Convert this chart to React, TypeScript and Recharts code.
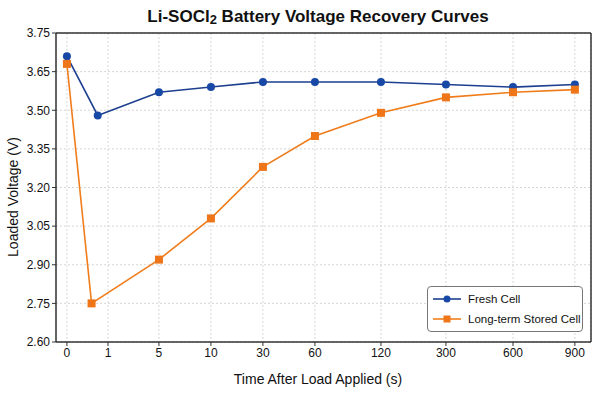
import React from "react";
import {
  LineChart,
  Line,
  XAxis,
  YAxis,
  CartesianGrid,
  Legend,
  ReferenceLine,
} from "recharts";

// Time ticks (seconds) and where each sits on the compressed time axis
const timeTicks = [0, 1, 5, 10, 30, 60, 120, 300, 600, 900];
const timeSlots = [0, 0.79, 1.77, 2.77, 3.77, 4.77, 6.04, 7.29, 8.58, 9.77];

// Voltage ticks and their printed labels
const voltTicks = [2.6, 2.75, 2.9, 3.05, 3.2, 3.35, 3.5, 3.65, 3.8];
const voltLabels = ["2.60", "2.75", "2.90", "3.05", "3.20", "3.35", "3.50", "3.65", "3.75"];

// Series
const freshTimes = [0, 0.75, 5, 10, 30, 60, 120, 300, 600, 900];
const freshVolts = [3.71, 3.48, 3.57, 3.59, 3.61, 3.61, 3.61, 3.6, 3.59, 3.6];
const storedTimes = [0, 0.6, 5, 10, 30, 60, 120, 300, 600, 900];
const storedVolts = [3.68, 2.75, 2.92, 3.08, 3.28, 3.4, 3.49, 3.55, 3.57, 3.58];

const seriesNames = ["Fresh Cell", "Long-term Stored Cell"];
const seriesColors = ["#1d3f8f", "#f07d1c"];
const markerColors = ["#1848a6", "#ee7518"];

const FONT = "'Liberation Sans', Arial, Helvetica, sans-serif";

// Piecewise-linear placement of a time value on the slot axis
function slotOf(t: number): number {
  for (let i = 1; i < timeTicks.length; i++) {
    if (t <= timeTicks[i]) {
      const a = timeTicks[i - 1];
      const b = timeTicks[i];
      const f = (t - a) / (b - a);
      return timeSlots[i - 1] + f * (timeSlots[i] - timeSlots[i - 1]);
    }
  }
  return timeSlots[timeSlots.length - 1];
}

const freshData = freshTimes.map((t, i) => ({ x: slotOf(t), v: freshVolts[i] }));
const storedData = storedTimes.map((t, i) => ({ x: slotOf(t), v: storedVolts[i] }));

const X_MIN = -0.21;
const X_MAX = 10.08;

const SquareDot = (props: any) => {
  const { cx, cy } = props;
  if (cx == null || cy == null) return null;
  return <rect x={cx - 4} y={cy - 4} width={8} height={8} fill={markerColors[1]} />;
};

const RoundDot = (props: any) => {
  const { cx, cy } = props;
  if (cx == null || cy == null) return null;
  return <circle cx={cx} cy={cy} r={4} fill={markerColors[0]} />;
};

const LegendBox = () => (
  <div
    style={{
      width: 156,
      height: 46,
      border: "1px solid #777",
      borderRadius: 4,
      background: "#fff",
      fontFamily: FONT,
      fontSize: 11.5,
      color: "#111",
      boxSizing: "border-box",
      paddingTop: 2,
    }}
  >
    {seriesNames.map((name, i) => (
      <div
        key={name}
        style={{ display: "flex", alignItems: "center", height: 20, whiteSpace: "nowrap" }}
      >
        <svg width={37} height={12} style={{ marginLeft: 3, flex: "none" }}>
          <line x1={2} y1={6} x2={30} y2={6} stroke={seriesColors[i]} strokeWidth={1.6} />
          {i === 0 ? (
            <circle cx={16} cy={6} r={3.5} fill={markerColors[0]} />
          ) : (
            <rect x={12.5} y={2.5} width={7} height={7} fill={markerColors[1]} />
          )}
        </svg>
        <span>{name}</span>
      </div>
    ))}
  </div>
);

export default function App() {
  return (
    <div style={{ position: "absolute", left: 0, top: 0, width: 600, height: 400, background: "#fff" }}>
      <LineChart
        width={600}
        height={400}
        margin={{ top: 33, right: 9, bottom: 0, left: 0 }}
        style={{ fontFamily: FONT }}
      >
        <text
          x={318}
          y={16}
          textAnchor="middle"
          dominantBaseline="central"
          style={{ fontFamily: FONT, fontSize: 17, fontWeight: 700, fill: "#111" }}
        >
          Li-SOCl
          <tspan fontSize={13} dy={3}>2</tspan>
          <tspan dy={-3}> Battery Voltage Recovery Curves</tspan>
        </text>
        <CartesianGrid stroke="#d6d6d6" strokeDasharray="2 2" />
        <XAxis
          type="number"
          dataKey="x"
          domain={[X_MIN, X_MAX]}
          ticks={timeSlots}
          allowDataOverflow
          height={58}
          tickSize={4}
          tickLine={{ stroke: "#333" }}
          axisLine={{ stroke: "#333", strokeWidth: 1.5 }}
          tick={{ fontSize: 12, fill: "#111", fontFamily: FONT }}
          tickFormatter={(v: number) => {
            const i = timeSlots.indexOf(v);
            return i >= 0 ? String(timeTicks[i]) : "";
          }}
          label={(p: any) => {
            const vb = p.viewBox || {};
            return (
              <text
                x={318}
                y={(vb.y || 342) + 37}
                textAnchor="middle"
                dominantBaseline="central"
                style={{ fontFamily: FONT, fontSize: 14, fill: "#111" }}
              >
                Time After Load Applied (s)
              </text>
            );
          }}
        />
        <YAxis
          type="number"
          domain={[2.6, 3.8]}
          ticks={voltTicks}
          width={56}
          tickSize={4}
          tickLine={{ stroke: "#333" }}
          axisLine={{ stroke: "#333", strokeWidth: 1.5 }}
          tick={{ fontSize: 12, fill: "#111", fontFamily: FONT }}
          tickFormatter={(v: number) => {
            const i = voltTicks.findIndex((t) => Math.abs(t - v) < 1e-6);
            return i >= 0 ? voltLabels[i] : "";
          }}
          label={() => (
            <text
              x={13}
              y={197}
              transform="rotate(-90, 13, 197)"
              textAnchor="middle"
              dominantBaseline="central"
              style={{ fontFamily: FONT, fontSize: 14, fill: "#111" }}
            >
              Loaded Voltage (V)
            </text>
          )}
        />
        <ReferenceLine y={3.8} stroke="#333" strokeWidth={1.5} />
        <ReferenceLine x={X_MAX} stroke="#333" strokeWidth={1.5} />
        <Line
          data={freshData}
          dataKey="v"
          name={seriesNames[0]}
          stroke={seriesColors[0]}
          strokeWidth={1.6}
          dot={<RoundDot />}
          activeDot={false}
          isAnimationActive={false}
        />
        <Line
          data={storedData}
          dataKey="v"
          name={seriesNames[1]}
          stroke={seriesColors[1]}
          strokeWidth={1.6}
          dot={<SquareDot />}
          activeDot={false}
          isAnimationActive={false}
        />
        <Legend
          layout="horizontal"
          verticalAlign="middle"
          align="center"
          content={() => <LegendBox />}
          wrapperStyle={{ left: 427, top: 286, width: 156, height: 46 }}
        />
      </LineChart>
    </div>
  );
}
